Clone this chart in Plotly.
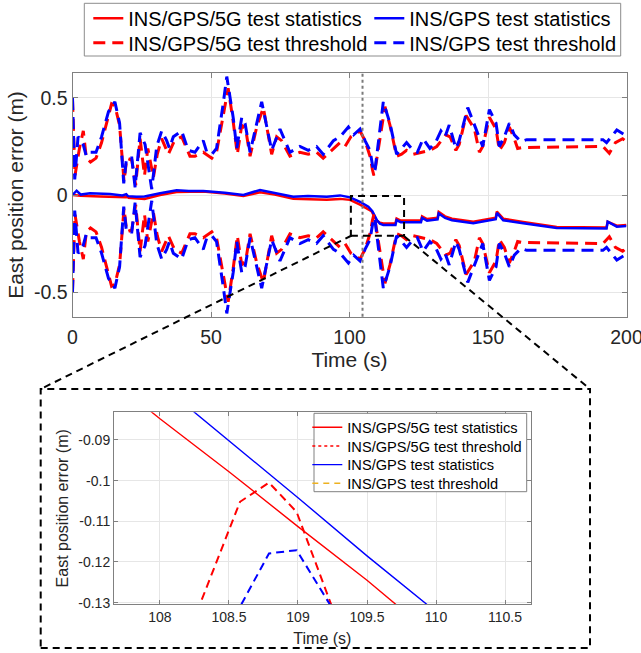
import plotly.graph_objects as go

W, H = 641, 653

# ---------------- main plot data ----------------
t_stat_gps5g = [0, 3.0, 10.0, 19.3, 19.6, 20.2, 26.0, 31.6, 37.6, 47.2, 55.0, 61.7, 67.7, 73.0,
                79.7, 91.8, 96.6, 100.2, 103.8, 106.8, 107.94, 109.0, 109.69, 111.0, 112.2,
                116.6, 117.0, 118.5, 125.8, 126.2, 128.0, 131.8, 132.2, 134.5, 137.0, 144.7,
                149.5, 152.8, 153.2, 155.5, 162.7, 174.8, 192.8, 193.2, 196.5, 200]
stat_gps5g = [0.0, -0.004, -0.008, -0.012, -0.002, -0.014, -0.02, 0.0, 0.015, 0.018, 0.008, -0.005,
              0.014, 0.002, -0.019, -0.024, -0.02, -0.025, -0.05, -0.075, -0.0832, -0.111, -0.13,
              -0.143, -0.147, -0.146, -0.121, -0.132, -0.132, -0.11, -0.124, -0.117, -0.087, -0.11,
              -0.122, -0.138, -0.124, -0.117, -0.085, -0.122, -0.139, -0.165, -0.167, -0.138,
              -0.158, -0.155]

t_stat_gps = [0, 1.5, 3.0, 6.3, 13.5, 18.0, 19.4, 20.0, 23.0, 26.0, 31.6, 37.6, 42.0, 47.2, 55.0,
              61.7, 67.7, 73.0, 79.7, 85.0, 91.8, 96.6, 100.2, 103.8, 106.8, 108.25, 109.0, 109.94,
              111.0, 112.2, 116.6, 117.0, 118.5, 125.8, 126.2, 128.0, 131.8, 132.2, 134.5, 137.0,
              144.7, 149.5, 152.8, 153.2, 155.5, 162.7, 174.8, 192.8, 193.2, 196.5, 200]
stat_gps = [0.0, 0.022, 0.002, 0.009, 0.005, -0.002, 0.004, -0.006, -0.009, -0.008, 0.009, 0.025,
            0.02, 0.021, 0.012, 0.0, 0.026, 0.012, -0.009, -0.005, -0.009, -0.002, -0.012, -0.035,
            -0.06, -0.0832, -0.104, -0.1304, -0.148, -0.155, -0.155, -0.129, -0.14, -0.14, -0.118,
            -0.132, -0.125, -0.095, -0.118, -0.13, -0.146, -0.132, -0.125, -0.092, -0.13, -0.146,
            -0.17, -0.172, -0.137, -0.163, -0.16]

t_thr_gps5g = [0, 0.9, 2.5, 3.9, 5.0, 6.5, 8.5, 10.5, 14.1, 15.3, 17.0, 18.6, 19.6, 21.4, 22.8,
               24.4, 26.0, 27.2, 29.2, 30.6, 32.2, 34.6, 36.8, 39.4, 42.4, 44.2, 47.2, 50.3, 52.0,
               54.4, 56.2, 58.0, 59.5, 61.1, 62.5, 64.1, 66.5, 68.9, 71.9, 73.7, 75.5, 78.5, 82.1,
               85.1, 88.1, 90.5, 94.2, 96.6, 98.4, 100.5, 102.6, 103.8, 105.6, 107.4, 108.29,
               108.58, 108.79, 108.99, 109.24, 112.8, 114.6, 117.0, 118.8, 120.6, 123.0, 126.6,
               129.0, 131.5, 134.8, 136.3, 138.4, 139.6, 142.1, 145.1, 146.9, 148.1, 150.5, 152.9,
               154.1, 155.9, 157.7, 159.5, 160.7, 162.5, 191.5, 193.8, 196.0, 198.6, 200]
thr_gps5g = [0.49, 0.10, 0.24, 0.33, 0.19, 0.17, 0.19, 0.27, 0.47, 0.46, 0.36, 0.07, 0.19, 0.18,
             0.05, 0.29, 0.10, 0.24, 0.09, 0.21, 0.29, 0.21, 0.28, 0.30, 0.20, 0.20, 0.22, 0.19,
             0.22, 0.42, 0.55, 0.38, 0.21, 0.36, 0.34, 0.20, 0.35, 0.45, 0.21, 0.30, 0.28, 0.20,
             0.22, 0.21, 0.22, 0.19, 0.24, 0.27, 0.25, 0.30, 0.32, 0.33, 0.28, 0.20, 0.13, 0.105,
             0.1005, 0.1077, 0.13, 0.455, 0.36, 0.20, 0.21, 0.23, 0.21, 0.22, 0.23, 0.25, 0.31,
             0.30, 0.23, 0.26, 0.41, 0.34, 0.22, 0.25, 0.40, 0.34, 0.23, 0.27, 0.35, 0.29, 0.24,
             0.245, 0.25, 0.215, 0.27, 0.29, 0.275]

t_thr_gps = [0, 0.8, 2.0, 3.5, 5.0, 6.5, 8.5, 10.5, 13.0, 15.3, 17.0, 18.5, 19.5, 21.4, 22.6, 24.4,
             26.2, 28.6, 30.4, 32.2, 34.0, 35.0, 36.4, 39.4, 41.8, 44.2, 47.2, 48.5, 50.3, 52.0,
             54.4, 55.7, 58.0, 59.3, 61.1, 62.3, 64.1, 66.5, 68.3, 71.9, 74.9, 78.5, 82.1, 85.1,
             88.1, 90.5, 94.2, 96.6, 99.6, 101.5, 103.8, 105.6, 107.4, 108.59, 108.79, 108.99,
             109.23, 112.2, 114.6, 117.0, 118.8, 120.6, 123.0, 124.5, 126.6, 129.0, 131.2, 133.0,
             134.5, 136.0, 138.4, 139.6, 142.7, 145.1, 148.1, 150.5, 152.9, 154.1, 155.9, 157.7,
             159.5, 161.9, 164.0, 191.5, 192.8, 196.5, 200]
thr_gps = [0.50, 0.08, 0.30, 0.28, 0.20, 0.22, 0.22, 0.30, 0.43, 0.48, 0.37, 0.06, 0.19, 0.19,
           0.04, 0.32, 0.26, 0.03, 0.25, 0.33, 0.28, 0.24, 0.30, 0.33, 0.23, 0.22, 0.28, 0.22,
           0.21, 0.24, 0.47, 0.61, 0.40, 0.24, 0.40, 0.37, 0.22, 0.37, 0.48, 0.23, 0.34, 0.22,
           0.25, 0.23, 0.25, 0.21, 0.28, 0.30, 0.35, 0.31, 0.34, 0.28, 0.23, 0.13, 0.118, 0.117,
           0.13, 0.48, 0.37, 0.21, 0.24, 0.27, 0.23, 0.22, 0.29, 0.24, 0.275, 0.33, 0.30, 0.36,
           0.24, 0.28, 0.45, 0.36, 0.25, 0.44, 0.37, 0.25, 0.30, 0.37, 0.31, 0.275, 0.285, 0.285,
           0.27, 0.335, 0.305]

fault_time = 104.7
zoom_box_t = [100.5, 119.7]
zoom_box_y = [-0.21, -0.005]

# ---------------- zoomed inset data ----------------
zt_stat_gps5g = [107.8, 108.0, 108.5, 109.0, 109.5, 109.8]
zstat_gps5g = [-0.0793, -0.0848, -0.0978, -0.1113, -0.1245, -0.133]
zt_stat_gps = [108.1, 108.25, 108.6, 109.0, 109.5, 109.94, 110.1]
zstat_gps = [-0.079, -0.0832, -0.093, -0.1042, -0.1185, -0.1304, -0.135]
zt_thr_gps5g = [108.2, 108.29, 108.58, 108.79, 108.99, 109.24, 109.35]
zthr_gps5g = [-0.1382, -0.1304, -0.1052, -0.1005, -0.1077, -0.1304, -0.140]
zt_thr_gps = [108.5, 108.59, 108.79, 108.99, 109.23, 109.35]
zthr_gps = [-0.136, -0.1304, -0.1179, -0.1171, -0.1304, -0.137]

# ---------------- ticks / labels ----------------
main_xticks = [0, 50, 100, 150, 200]
main_yticks = [-0.5, 0, 0.5]
main_yticktext = ["-0.5", "0", "0.5"]
zoom_xticks = [108, 108.5, 109, 109.5, 110, 110.5]
zoom_xticktext = ["108", "108.5", "109", "109.5", "110", "110.5"]
zoom_yticks = [-0.13, -0.12, -0.11, -0.1, -0.09]
zoom_yticktext = ["-0.13", "-0.12", "-0.11", "-0.1", "-0.09"]

names = ["INS/GPS/5G test statistics", "INS/GPS/5G test threshold",
         "INS/GPS test statistics", "INS/GPS test threshold"]

RED = "#FF0000"
BLUE = "#0000FF"
ORANGE = "#EDB120"
FONT = "Liberation Sans, Arial, sans-serif"
TXT = "#262626"


def px(x):
    return x / W


def py(y):
    return 1 - y / H


def mirrored(t, v):
    return t + [None] + t, v + [None] + [-a for a in v]


fig = go.Figure()

# main traces (each main legend row/column entry has its own legend box)
fig.add_trace(go.Scatter(x=t_stat_gps5g, y=stat_gps5g, mode="lines", name=names[0],
                         line=dict(color=RED, width=2.5), legend="legend",
                         xaxis="x", yaxis="y"))
fig.add_trace(go.Scatter(x=t_stat_gps, y=stat_gps, mode="lines", name=names[2],
                         line=dict(color=BLUE, width=2.5), legend="legend2",
                         xaxis="x", yaxis="y"))
xr, yr = mirrored(t_thr_gps5g, thr_gps5g)
fig.add_trace(go.Scatter(x=xr, y=yr, mode="lines", name=names[1],
                         line=dict(color=RED, width=3, dash="12px,7px"), legend="legend3",
                         xaxis="x", yaxis="y"))
xb, yb = mirrored(t_thr_gps, thr_gps)
fig.add_trace(go.Scatter(x=xb, y=yb, mode="lines", name=names[3],
                         line=dict(color=BLUE, width=3, dash="12px,7px"), legend="legend4",
                         xaxis="x", yaxis="y"))

# inset traces
fig.add_trace(go.Scatter(x=zt_thr_gps5g, y=zthr_gps5g, mode="lines", showlegend=False,
                         line=dict(color=RED, width=2, dash="8px,5px"), xaxis="x2", yaxis="y2"))
fig.add_trace(go.Scatter(x=zt_thr_gps, y=zthr_gps, mode="lines", showlegend=False,
                         line=dict(color=BLUE, width=2, dash="8px,5px"), xaxis="x2", yaxis="y2"))
fig.add_trace(go.Scatter(x=zt_stat_gps5g, y=zstat_gps5g, mode="lines", name=names[0],
                         line=dict(color=RED, width=1.4), legend="legend5",
                         xaxis="x2", yaxis="y2"))
fig.add_trace(go.Scatter(x=[None], y=[None], mode="lines", name=names[1],
                         line=dict(color=RED, width=1.6, dash="dot"), legend="legend6",
                         xaxis="x2", yaxis="y2"))
fig.add_trace(go.Scatter(x=zt_stat_gps, y=zstat_gps, mode="lines", name=names[2],
                         line=dict(color=BLUE, width=1.4), legend="legend7",
                         xaxis="x2", yaxis="y2"))
fig.add_trace(go.Scatter(x=[None], y=[None], mode="lines", name=names[3],
                         line=dict(color=ORANGE, width=1.6, dash="6px,5px"), legend="legend8",
                         xaxis="x2", yaxis="y2"))

axis_common = dict(showline=True, linecolor="#808080", linewidth=1, mirror="ticks",
                   ticks="inside", tickcolor="#808080", showgrid=True, gridcolor="#e6e6e6",
                   gridwidth=1, zeroline=False, color=TXT, ticklabeloverflow="allow")


def leg(xpx, ypx, size):
    return dict(x=px(xpx), y=py(ypx), xanchor="left", yanchor="middle", orientation="v",
                bgcolor="rgba(0,0,0,0)", borderwidth=0, tracegroupgap=0,
                font=dict(size=size, family=FONT, color="black"))


fig.update_layout(
    width=W, height=H,
    margin=dict(l=0, r=0, t=0, b=0, autoexpand=False),
    paper_bgcolor="white", plot_bgcolor="white",
    font=dict(family=FONT, color=TXT),
    xaxis=dict(domain=[px(72.5), px(626.5)], range=[0, 200], anchor="y",
               tickvals=main_xticks, ticklen=5, ticklabelstandoff=3,
               tickfont=dict(size=19.5, family=FONT, color=TXT),
               title=dict(text="Time (s)", font=dict(size=21, family=FONT, color=TXT),
                          standoff=5),
               **axis_common),
    yaxis=dict(domain=[py(316.7), py(73.3)], range=[-0.627, 0.627], anchor="x",
               tickvals=main_yticks, ticktext=main_yticktext, ticklen=5,
               tickfont=dict(size=19.5, family=FONT, color=TXT),
               title=dict(text="East position error (m)",
                          font=dict(size=21, family=FONT, color=TXT), standoff=4),
               **axis_common),
    xaxis2=dict(domain=[px(114), px(530.7)], range=[107.667, 110.686], anchor="y2",
                tickvals=zoom_xticks, ticktext=zoom_xticktext, ticklen=4,
                tickfont=dict(size=14, family=FONT, color=TXT),
                title=dict(text="Time (s)", font=dict(size=16, family=FONT, color=TXT),
                           standoff=8),
                **axis_common),
    yaxis2=dict(domain=[py(604.3), py(412.3)], range=[-0.1304, -0.0832], anchor="x2",
                tickvals=zoom_yticks, ticktext=zoom_yticktext, ticklen=4,
                tickfont=dict(size=14, family=FONT, color=TXT),
                title=dict(text="East position error (m)",
                           font=dict(size=16, family=FONT, color=TXT), standoff=5),
                **axis_common),
    legend=leg(88.3, 18.3, 20),
    legend2=leg(369.3, 18.3, 20),
    legend3=leg(88.3, 42.7, 20),
    legend4=leg(369.3, 42.7, 20),
    legend5=leg(307.3, 427.3, 14.6),
    legend6=leg(307.3, 446.0, 14.6),
    legend7=leg(307.3, 464.6, 14.6),
    legend8=leg(307.3, 483.3, 14.6),
    showlegend=True,
)

shapes = [
    # main legend frame
    dict(type="rect", xref="paper", yref="paper", x0=px(84.3), x1=px(620.7),
         y0=py(56), y1=py(3.3), line=dict(color="#8c8c8c", width=1), fillcolor="white",
         layer="below"),
    # fault instant
    dict(type="line", xref="x", yref="y domain", x0=fault_time, x1=fault_time, y0=0, y1=1,
         line=dict(color="#7a7a7a", width=2, dash="dot")),
    # zoom rectangle
    dict(type="rect", xref="x", yref="y", x0=zoom_box_t[0], x1=zoom_box_t[1],
         y0=zoom_box_y[0], y1=zoom_box_y[1], line=dict(color="black", width=2, dash="7px,5px")),
    # connectors
    dict(type="line", xref="paper", yref="paper", x0=px(351.7), y0=py(235.5), x1=px(40.7),
         y1=py(389), line=dict(color="black", width=2, dash="7px,5px")),
    dict(type="line", xref="paper", yref="paper", x0=px(404.5), y0=py(236.5), x1=px(590),
         y1=py(389), line=dict(color="black", width=2, dash="7px,5px")),
    # inset frame
    dict(type="rect", xref="paper", yref="paper", x0=px(40.7), x1=px(590), y0=py(648),
         y1=py(389), line=dict(color="black", width=2, dash="7px,5px")),
    # inset legend frame
    dict(type="rect", xref="paper", yref="paper", x0=px(314), x1=px(526.7), y0=py(491.7),
         y1=py(413.3), line=dict(color="#808080", width=1), fillcolor="white", layer="above"),
]
fig.update_layout(shapes=shapes)

fig.write_html("out.html", config={"displayModeBar": False},
               post_script="document.body.style.margin='0';document.body.style.overflow='hidden';")
